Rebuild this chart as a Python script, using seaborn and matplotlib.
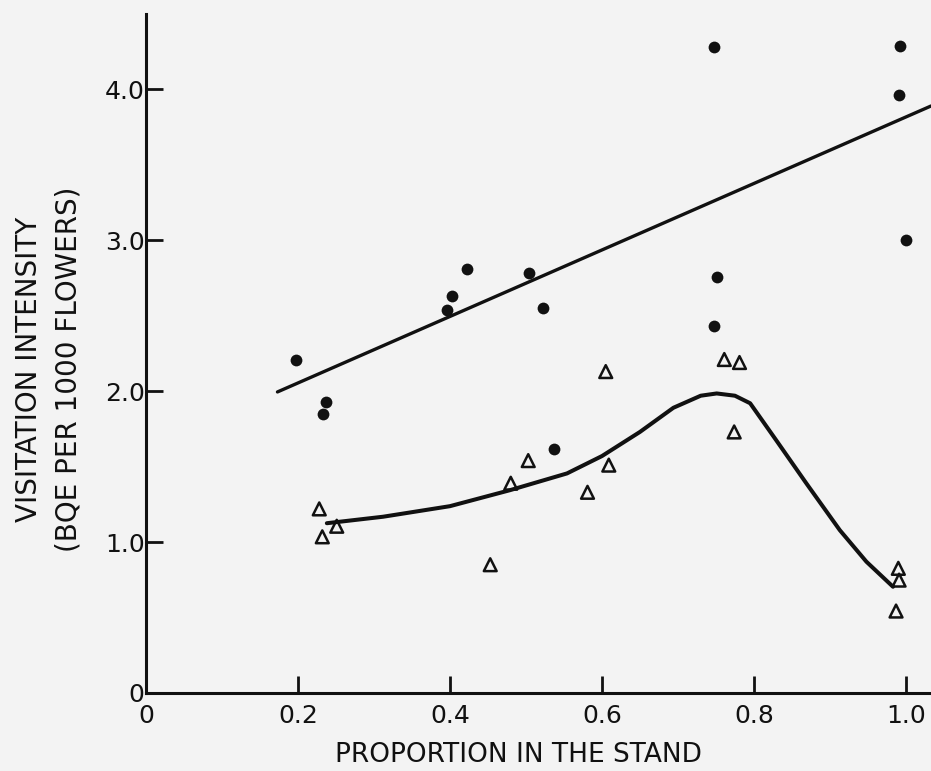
import matplotlib
matplotlib.use("Agg")
import matplotlib.pyplot as plt
import numpy as np
import pandas as pd
import seaborn as sns

# filled circles (upper group)
circle_x = [0.198, 0.237, 0.233, 0.396, 0.403, 0.422, 0.504, 0.522, 0.537,
            0.748, 0.751, 0.748, 0.992, 0.991, 1.000]
circle_y = [2.21, 1.93, 1.85, 2.54, 2.63, 2.81, 2.78, 2.55, 1.62,
            4.28, 2.76, 2.43, 4.29, 3.96, 3.00]

# open triangles (lower group)
tri_x = [0.228, 0.232, 0.251, 0.453, 0.480, 0.503, 0.581, 0.609, 0.605,
         0.761, 0.781, 0.774, 0.990, 0.991, 0.987]
tri_y = [1.22, 1.035, 1.105, 0.85, 1.39, 1.54, 1.33, 1.51, 2.13,
         2.21, 2.19, 1.73, 0.826, 0.748, 0.543]

# straight fitted line through the circles
line_x = [0.173, 1.033]
line_y = [1.995, 3.89]

# hand drawn curve through the triangles
curve_x = [0.238, 0.312, 0.400, 0.479, 0.554, 0.600, 0.650, 0.694, 0.730,
           0.751, 0.775, 0.795, 0.830, 0.869, 0.913, 0.948, 0.983]
curve_y = [1.125, 1.168, 1.238, 1.344, 1.455, 1.570, 1.730, 1.890, 1.970,
           1.985, 1.970, 1.920, 1.670, 1.389, 1.079, 0.870, 0.704]

x_ticks = [0, 0.2, 0.4, 0.6, 0.8, 1.0]
x_labels = ["0", "0.2", "0.4", "0.6", "0.8", "1.0"]
y_ticks = [0, 1, 2, 3, 4]
y_labels = ["0", "1.0", "2.0", "3.0", "4.0"]

ink = "#111111"
paper = "#f3f3f3"

sns.set_style("ticks")
plt.rcParams["font.family"] = ["DejaVu Sans"]

fig = plt.figure(figsize=(9.31, 7.71), dpi=100, facecolor=paper)
ax = fig.add_axes([0.1568, 0.1012, 0.8432, 0.8807])
ax.set_facecolor(paper)

df_line = pd.DataFrame({"x": line_x, "y": line_y})
df_curve = pd.DataFrame({"x": curve_x, "y": curve_y})
sns.lineplot(data=df_line, x="x", y="y", ax=ax, color=ink, linewidth=2.4,
             sort=False, estimator=None)
sns.lineplot(data=df_curve, x="x", y="y", ax=ax, color=ink, linewidth=2.9,
             sort=False, estimator=None, solid_joinstyle="round",
             solid_capstyle="round")

sns.scatterplot(x=circle_x, y=circle_y, ax=ax, color=ink, s=72,
                linewidth=0, zorder=3)
sns.scatterplot(x=tri_x, y=tri_y, ax=ax, marker="^", s=85,
                facecolors="none", edgecolor=ink, linewidth=1.8, zorder=3)

ax.set_xlim(0, 1.033)
ax.set_ylim(0, 4.5)
ax.set_xticks(x_ticks)
ax.set_xticklabels(x_labels)
ax.set_yticks(y_ticks)
ax.set_yticklabels(y_labels)

sns.despine(ax=ax)
for side in ["left", "bottom"]:
    ax.spines[side].set_linewidth(2.2)
    ax.spines[side].set_color(ink)

ax.tick_params(axis="both", direction="in", length=12, width=2.0,
               color=ink, labelcolor=ink, labelsize=18)
ax.tick_params(axis="x", pad=8)
ax.tick_params(axis="y", pad=1)

ax.set_xlabel("PROPORTION IN THE STAND", fontsize=19, color=ink, va="center")
ax.xaxis.set_label_coords(0.474, -0.092)
ax.set_ylabel("VISITATION INTENSITY\n(BQE PER 1000 FLOWERS)", fontsize=20,
              color=ink, va="center", linespacing=1.5)
ax.yaxis.set_label_coords(-0.124, 0.476)

fig.savefig("out.png", dpi=100, facecolor=paper)
